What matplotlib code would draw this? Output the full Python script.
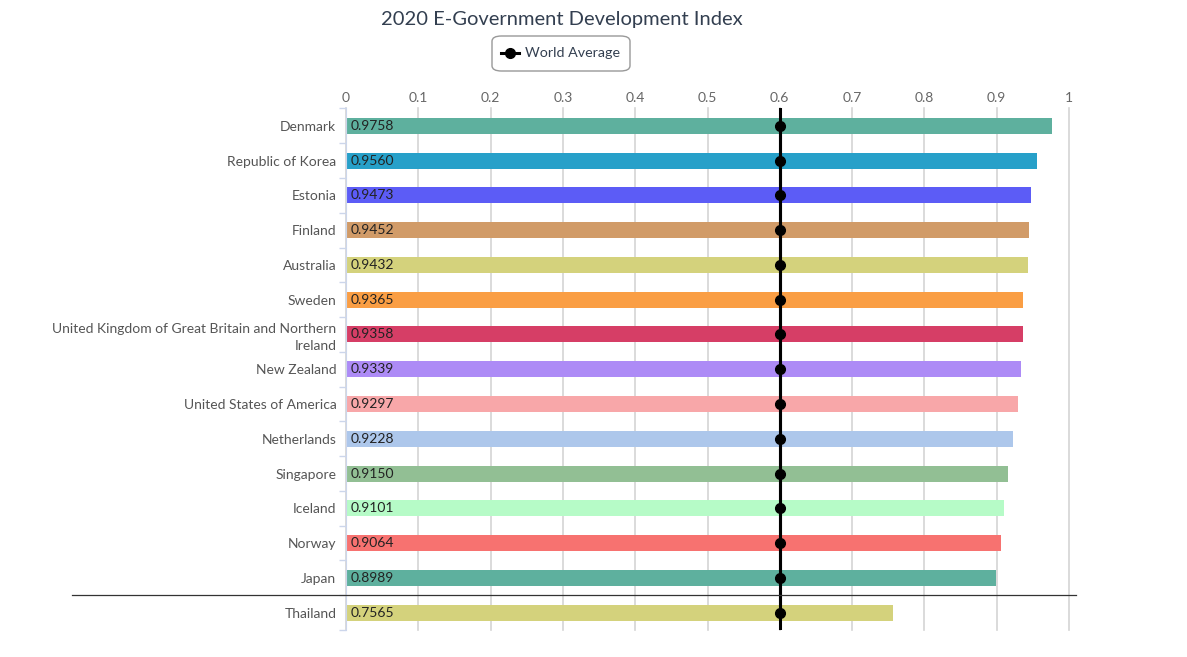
import matplotlib
matplotlib.use("Agg")
import matplotlib.pyplot as plt
from matplotlib.patches import FancyBboxPatch
from matplotlib.lines import Line2D
import matplotlib.transforms as mtransforms

countries = ["Denmark", "Republic of Korea", "Estonia", "Finland", "Australia", "Sweden",
             "United Kingdom of Great Britain and Northern\nIreland", "New Zealand",
             "United States of America", "Netherlands", "Singapore", "Iceland", "Norway",
             "Japan", "Thailand"]
egdi = [0.9758, 0.9560, 0.9473, 0.9452, 0.9432, 0.9365, 0.9358, 0.9339, 0.9297,
        0.9228, 0.9150, 0.9101, 0.9064, 0.8989, 0.7565]
world_avg = [0.6] * len(countries)
colors = ["#5eb09e", "#27a0c9", "#5c5cf6", "#d19b68", "#d4d27c", "#fa9e44", "#d63e66",
          "#ad8bf6", "#f8a7a9", "#adc7eb", "#92bf94", "#b6fbc7", "#f77270", "#5eb09e", "#d4d27c"]
xticks = [0, 0.1, 0.2, 0.3, 0.4, 0.5, 0.6, 0.7, 0.8, 0.9, 1]
xticklabels = ["0", "0.1", "0.2", "0.3", "0.4", "0.5", "0.6", "0.7", "0.8", "0.9", "1"]

plt.rcParams['font.family'] = ['Lato', 'DejaVu Sans']
fig = plt.figure(figsize=(11.87, 6.57), dpi=100)
ax = fig.add_axes([346/1187, 1-630/657, 723/1187, (630-108.5)/657])

n = len(countries)
ypos = list(range(n))
ax.barh(ypos, egdi, height=0.46, color=colors, zorder=2)
for y, v in zip(ypos, egdi):
    ax.text(0.006, y, f"{v:.4f}", va="center", ha="left", fontsize=10, color="#222222", zorder=3)

ax.plot(world_avg, ypos, color="black", lw=2.2, marker="o", markersize=7, zorder=4)
ax.plot([0.6, 0.6], [-0.5, n - 0.5], color="black", lw=2.2, zorder=4)

ax.set_xlim(0, 1)
ax.set_ylim(n - 0.5, -0.5)
ax.set_xticks(xticks)
ax.set_xticklabels(xticklabels)
ax.xaxis.tick_top()
ax.tick_params(axis="x", length=0, pad=3, labelsize=10, labelcolor="#666666")
ax.grid(axis="x", color="#d4d4d4", lw=1.2, zorder=0)
for gl in ax.get_xgridlines():
    gl.set_clip_on(False)
ax.set_axisbelow(True)

ax.set_yticks(ypos)
ax.set_yticklabels(countries, linespacing=1.45)
for lab in ax.get_yticklabels():
    lab.set_multialignment("right")
ax.tick_params(axis="y", length=0, pad=7, labelsize=10, labelcolor="#555555")
ax.set_yticks([i + 0.5 for i in range(-1, n)], minor=True)
ax.tick_params(axis="y", which="minor", length=5, color="#ccd6eb", width=1)

for s in ["top", "right", "bottom"]:
    ax.spines[s].set_visible(False)
ax.spines["left"].set_color("#ccd6eb")

trans = mtransforms.blended_transform_factory(ax.transAxes, ax.transData)
ax.add_line(Line2D([(72-346)/723, (1076-346)/723], [n - 1.5, n - 1.5], transform=trans,
                   color="#333333", lw=0.9, clip_on=False, zorder=5))

fig.text(562/1187, 1-19/657, "2020 E-Government Development Index", ha="center", va="center",
         fontsize=14.5, color="#333f50")

# legend box
bx0, by0, bw, bh = 492/1187, 1-71/657, 138/1187, 35/657
box = FancyBboxPatch((bx0, by0), bw, bh, boxstyle="round,pad=0,rounding_size=0.008",
                     transform=fig.transFigure, facecolor="white", edgecolor="#999999", lw=1)
fig.patches.append(box)
ly = 1-53/657
fig.add_artist(Line2D([501/1187, 519/1187], [ly, ly], color="black", lw=2.2,
                      transform=fig.transFigure))
fig.add_artist(Line2D([510/1187], [ly], color="black", marker="o", markersize=7,
                      transform=fig.transFigure))
fig.text(525/1187, ly, "World Average", ha="left", va="center", fontsize=10.3, color="#333f50")

fig.savefig("out.png", dpi=100)
